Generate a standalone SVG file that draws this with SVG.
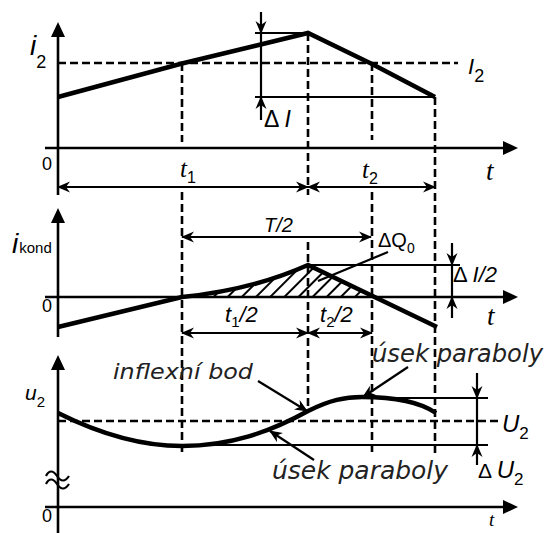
<svg xmlns="http://www.w3.org/2000/svg" width="550" height="533" viewBox="0 0 550 533">
<style>
.ax{stroke:#000;stroke-width:2.6;fill:none}
.dash{stroke:#000;stroke-width:2.6;fill:none;stroke-dasharray:8,4}
.wave{stroke:#000;stroke-width:4.5;fill:none;stroke-linejoin:miter}
.thin{stroke:#000;stroke-width:2.2;fill:none}
.dim{stroke:#000;stroke-width:2.2;fill:none;marker-end:url(#ah)}
.dim2{stroke:#000;stroke-width:2.2;fill:none;marker-end:url(#ah);marker-start:url(#ahs)}
.tri{fill:#000}
text{font-family:"Liberation Sans",Arial,sans-serif;fill:#000}
.it{font-style:italic}
.ser{font-family:"Liberation Serif","Times New Roman",serif;font-style:italic}
.lab{font-family:"DejaVu Sans","Liberation Sans",sans-serif;font-style:italic;fill:#222}
</style>
<defs>
<marker id="ah" markerUnits="userSpaceOnUse" markerWidth="14" markerHeight="12" refX="12" refY="6" orient="auto" viewBox="0 0 14 12">
<path d="M13,6 L0,0.5 L4,6 L0,11.5 z" fill="#000"/>
</marker>
<marker id="ahs" markerUnits="userSpaceOnUse" markerWidth="14" markerHeight="12" refX="12" refY="6" orient="auto-start-reverse" viewBox="0 0 14 12">
<path d="M13,6 L0,0.5 L4,6 L0,11.5 z" fill="#000"/>
</marker>
<pattern id="hatch" patternUnits="userSpaceOnUse" width="10" height="10" patternTransform="rotate(45)">
<line x1="0" y1="0" x2="0" y2="10" stroke="#000" stroke-width="4"/>
</pattern>
</defs>

<g id="guides">
<line class="dash" x1="58" y1="63" x2="458" y2="63"/>
<line class="dash" x1="182" y1="63" x2="182" y2="142"/>
<line class="dash" x1="182" y1="192" x2="182" y2="455"/>
<line class="dash" x1="308" y1="33" x2="308" y2="195"/>
<line class="dash" x1="308" y1="242" x2="308" y2="411"/>
<line class="dash" x1="372" y1="63" x2="372" y2="140"/>
<line class="dash" x1="372" y1="192" x2="372" y2="455"/>
<line class="dash" x1="435" y1="97" x2="435" y2="455"/>
<line class="dash" x1="58" y1="421" x2="498" y2="421"/>
</g>

<g id="plot1">
<line class="ax" x1="58" y1="32" x2="58" y2="195"/>
<polygon class="tri" points="58,22 51,37 65,37"/>
<line class="ax" x1="45" y1="148" x2="508" y2="148"/>
<polygon class="tri" points="518,148 503,141 503,155"/>
<polyline class="wave" points="58,97 182,63.5 308,33 372,64 435,97"/>
<line class="thin" x1="255" y1="33" x2="308" y2="33"/>
<line class="thin" x1="255" y1="97" x2="435" y2="97"/>
<line class="thin" x1="261" y1="33" x2="261" y2="97"/>
<text class="it" x="30" y="55" font-size="28">i<tspan font-size="18" font-style="normal" dy="13">2</tspan></text>
<text class="it" x="468" y="74" font-size="22">I<tspan font-size="18" font-style="normal" dy="8">2</tspan></text>
<text x="42" y="170" font-size="18">0</text>
<text class="ser" x="180" y="177" font-size="25">t<tspan font-family="Liberation Sans" font-style="normal" font-size="16" dy="6">1</tspan></text>
<text class="ser" x="362" y="178" font-size="25">t<tspan font-family="Liberation Sans" font-style="normal" font-size="16" dy="6">2</tspan></text>
<text class="ser" x="486" y="180" font-size="27">t</text>
<text x="264" y="127" font-size="23">Δ <tspan class="it">I</tspan></text>
</g>

<g id="plot2">
<line class="ax" x1="58" y1="218" x2="58" y2="337"/>
<polygon class="tri" points="58,208 51,223 65,223"/>
<line class="ax" x1="45" y1="297" x2="508" y2="297"/>
<polygon class="tri" points="518,297 503,290 503,304"/>
<path d="M182,297 Q252,290 308,265 L374,297 Z" fill="url(#hatch)"/>
<path class="wave" d="M58,327 L182,297 Q252,290 308,265 L437,327"/>
<line class="thin" x1="308" y1="265" x2="460" y2="265"/>
<line class="thin" x1="388" y1="252" x2="318" y2="281"/>
<line class="thin" x1="452" y1="265" x2="452" y2="297"/>
<text class="it" x="12" y="253" font-size="28">i<tspan font-style="normal" font-size="15" dx="1">kond</tspan></text>
<text x="42" y="312" font-size="18">0</text>
<text class="it" x="264" y="232" font-size="20">T/2</text>
<text x="378" y="247" font-size="20">ΔQ<tspan font-size="14" dy="6">0</tspan></text>
<text x="453" y="282" font-size="22">Δ <tspan class="it">I/2</tspan></text>
<text class="it" x="225" y="322" font-size="22">t<tspan font-style="normal" font-size="15" dy="5">1</tspan><tspan dy="-5">/2</tspan></text>
<text class="it" x="320" y="322" font-size="22">t<tspan font-style="normal" font-size="15" dy="5">2</tspan><tspan dy="-5">/2</tspan></text>
<text class="ser" x="487" y="325" font-size="27">t</text>
</g>

<g id="plot3">
<line class="ax" x1="58" y1="365" x2="58" y2="533"/>
<polygon class="tri" points="58,355 51,370 65,370"/>
<line class="ax" x1="45" y1="507" x2="508" y2="507"/>
<polygon class="tri" points="518,507 503,500 503,514"/>
<path class="thin" d="M46,476 c3,-6 7,-6 11,0 s8,6 12,0" stroke-width="2.6"/>
<path class="thin" d="M46,484 c3,-6 7,-6 11,0 s8,6 12,0" stroke-width="2.6"/>
<path class="wave" d="M58,413 C100,434 140,446 182,446 C230,446 270,432 308,411 C330,400 345,397 362,397 C395,397 420,402 436,413"/>
<line class="thin" x1="362" y1="398" x2="488" y2="398"/>
<line class="thin" x1="150" y1="445" x2="488" y2="445"/>
<line class="thin" x1="477" y1="398" x2="477" y2="445"/>
<text class="it" x="25" y="400" font-size="21">u<tspan font-style="normal" font-size="15" dy="7">2</tspan></text>
<text x="42" y="522" font-size="18">0</text>
<text class="it" x="502" y="432" font-size="24">U<tspan font-style="normal" font-size="17" dy="7">2</tspan></text>
<text x="478" y="478" font-size="21">Δ <tspan class="it" font-size="24">U</tspan><tspan font-size="17" dy="7">2</tspan></text>
<text class="lab" x="113" y="379" font-size="22" textLength="140" lengthAdjust="spacingAndGlyphs">inflexní bod</text>
<text class="lab" x="372" y="362" font-size="24" textLength="171" lengthAdjust="spacingAndGlyphs">úsek paraboly</text>
<text class="lab" x="272" y="479" font-size="24" textLength="176" lengthAdjust="spacingAndGlyphs">úsek paraboly</text>
<text class="ser" x="489" y="526" font-size="19">t</text>
</g>

<g id="connectors">
<line class="dim2" x1="58" y1="187" x2="308" y2="187"/>
<line class="dim2" x1="308" y1="187" x2="435" y2="187"/>
<line class="dim2" x1="182" y1="237" x2="371" y2="237"/>
<line class="dim2" x1="182" y1="333" x2="308" y2="333"/>
<line class="dim2" x1="308" y1="333" x2="372" y2="333"/>
<line class="dim" x1="261" y1="12" x2="261" y2="33"/>
<line class="dim" x1="261" y1="120" x2="261" y2="97"/>
<line class="dim" x1="452" y1="243" x2="452" y2="265"/>
<line class="dim" x1="452" y1="318" x2="452" y2="297"/>
<line class="dim" x1="477" y1="373" x2="477" y2="398"/>
<line class="dim" x1="477" y1="465" x2="477" y2="445"/>
<line class="dim" x1="258" y1="381" x2="307" y2="411"/>
<line class="dim" x1="408" y1="367" x2="363" y2="397"/>
<line class="dim" x1="314" y1="460" x2="270" y2="431"/>
</g>
</svg>
